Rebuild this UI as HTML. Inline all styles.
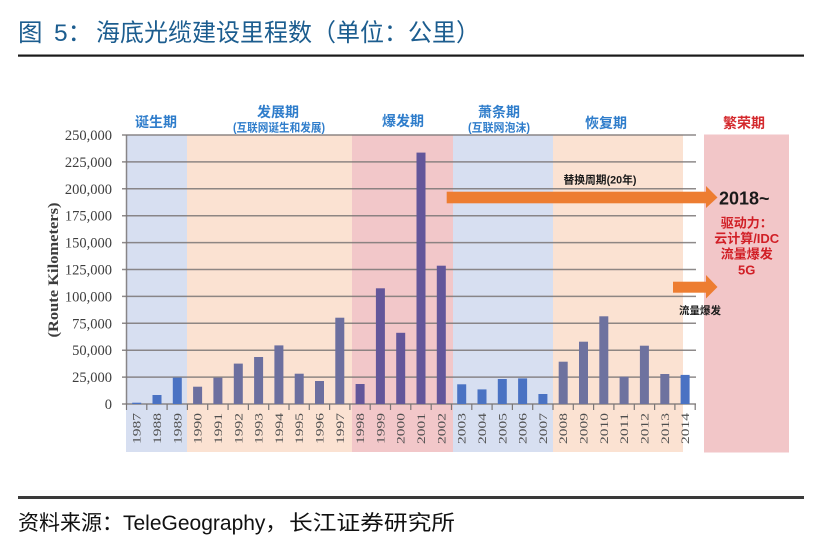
<!DOCTYPE html>
<html><head><meta charset="utf-8"><style>
html,body{margin:0;padding:0;background:#fff;}
body{width:818px;height:556px;overflow:hidden;}
svg{display:block;}
</style></head><body>
<svg width="818" height="556" viewBox="0 0 818 556" xmlns="http://www.w3.org/2000/svg">
<!-- title -->
<g font-family="'Liberation Sans','Noto Sans CJK SC',sans-serif" fill="#1c5d8f" font-size="24.5">
<text x="18" y="41">图</text>
<text x="54" y="41">5：</text>
<text x="96" y="41" textLength="384" lengthAdjust="spacingAndGlyphs">海底光缆建设里程数（单位：公里）</text>
</g>
<rect x="18" y="54.5" width="786" height="2.2" fill="#1a1a1a"/>

<!-- bands -->
<rect x="126" y="134.5" width="61" height="317.5" fill="#d7dff1"/>
<rect x="187" y="134.5" width="165" height="317.5" fill="#fbe2d2"/>
<rect x="352" y="134.5" width="101" height="317.5" fill="#f2c7c9"/>
<rect x="453" y="134.5" width="100" height="317.5" fill="#d7dff1"/>
<rect x="553" y="134.5" width="130" height="317.5" fill="#fbe2d2"/>
<rect x="704" y="134.5" width="85" height="318" fill="#f2c6c8"/>

<!-- gridlines -->
<g stroke="#7a7676" stroke-width="1.5" stroke-opacity="0.85">
<line x1="122" y1="135" x2="696" y2="135"/>
<line x1="122" y1="161.9" x2="696" y2="161.9"/>
<line x1="122" y1="188.8" x2="696" y2="188.8"/>
<line x1="122" y1="215.7" x2="696" y2="215.7"/>
<line x1="122" y1="242.6" x2="696" y2="242.6"/>
<line x1="122" y1="269.5" x2="696" y2="269.5"/>
<line x1="122" y1="296.4" x2="696" y2="296.4"/>
<line x1="122" y1="323.3" x2="696" y2="323.3"/>
<line x1="122" y1="350.2" x2="696" y2="350.2"/>
<line x1="122" y1="377.1" x2="696" y2="377.1"/>
<line x1="122" y1="404" x2="696" y2="404"/>
<line x1="126.5" y1="135" x2="126.5" y2="404"/>
</g>
<!-- x ticks -->
<g stroke="#7a7676" stroke-width="1.2">
<line x1="126.5" y1="404" x2="126.5" y2="410"/><line x1="146.8" y1="404" x2="146.8" y2="410"/><line x1="167.1" y1="404" x2="167.1" y2="410"/><line x1="187.4" y1="404" x2="187.4" y2="410"/><line x1="207.7" y1="404" x2="207.7" y2="410"/><line x1="228.1" y1="404" x2="228.1" y2="410"/><line x1="248.4" y1="404" x2="248.4" y2="410"/><line x1="268.7" y1="404" x2="268.7" y2="410"/><line x1="289" y1="404" x2="289" y2="410"/><line x1="309.3" y1="404" x2="309.3" y2="410"/><line x1="329.6" y1="404" x2="329.6" y2="410"/><line x1="349.9" y1="404" x2="349.9" y2="410"/><line x1="370.2" y1="404" x2="370.2" y2="410"/><line x1="390.5" y1="404" x2="390.5" y2="410"/><line x1="410.8" y1="404" x2="410.8" y2="410"/><line x1="431.2" y1="404" x2="431.2" y2="410"/><line x1="451.5" y1="404" x2="451.5" y2="410"/><line x1="471.8" y1="404" x2="471.8" y2="410"/><line x1="492.1" y1="404" x2="492.1" y2="410"/><line x1="512.4" y1="404" x2="512.4" y2="410"/><line x1="532.7" y1="404" x2="532.7" y2="410"/><line x1="553" y1="404" x2="553" y2="410"/><line x1="573.3" y1="404" x2="573.3" y2="410"/><line x1="593.6" y1="404" x2="593.6" y2="410"/><line x1="613.9" y1="404" x2="613.9" y2="410"/><line x1="634.3" y1="404" x2="634.3" y2="410"/><line x1="654.6" y1="404" x2="654.6" y2="410"/><line x1="674.9" y1="404" x2="674.9" y2="410"/><line x1="695.2" y1="404" x2="695.2" y2="410"/>
</g>

<!-- bars -->
<g fill="#4a72c3">
<rect x="132.2" y="402.7" width="9" height="1.3"/>
<rect x="152.5" y="395" width="9" height="9"/>
<rect x="172.8" y="377.6" width="9" height="26.4"/>
</g>
<g fill="#6c6f9f">
<rect x="193.1" y="386.7" width="9" height="17.3"/>
<rect x="213.4" y="377.6" width="9" height="26.4"/>
<rect x="233.8" y="363.6" width="9" height="40.4"/>
<rect x="254.1" y="357" width="9" height="47"/>
<rect x="274.4" y="345.4" width="9" height="58.6"/>
<rect x="294.7" y="373.7" width="9" height="30.3"/>
<rect x="315" y="381" width="9" height="23"/>
<rect x="335.3" y="317.7" width="9" height="86.3"/>
</g>
<g fill="#63569a">
<rect x="355.6" y="384" width="9" height="20"/>
<rect x="375.9" y="288.3" width="9" height="115.7"/>
<rect x="396.2" y="332.8" width="9" height="71.2"/>
<rect x="416.5" y="152.6" width="9" height="251.4"/>
<rect x="436.8" y="265.7" width="9" height="138.3"/>
</g>
<g fill="#4a72c3">
<rect x="457.2" y="384.3" width="9" height="19.7"/>
<rect x="477.5" y="389.4" width="9" height="14.6"/>
<rect x="497.8" y="379" width="9" height="25"/>
<rect x="518.1" y="378.4" width="9" height="25.6"/>
<rect x="538.4" y="394" width="9" height="10"/>
</g>
<g fill="#6e729f">
<rect x="558.7" y="361.7" width="9" height="42.3"/>
<rect x="579" y="341.7" width="9" height="62.3"/>
<rect x="599.3" y="316.3" width="9" height="87.7"/>
<rect x="619.6" y="376.7" width="9" height="27.3"/>
<rect x="639.9" y="345.7" width="9" height="58.3"/>
<rect x="660.3" y="374" width="9" height="30"/>
</g>
<rect x="680.6" y="374.9" width="9" height="29.1" fill="#4a72c3"/>

<!-- y labels -->
<g font-family="'Liberation Serif',serif" font-size="14.5" fill="#3d3d3d" text-anchor="end">
<text x="112" y="140">250,000</text>
<text x="112" y="166.9">225,000</text>
<text x="112" y="193.8">200,000</text>
<text x="112" y="220.7">175,000</text>
<text x="112" y="247.6">150,000</text>
<text x="112" y="274.5">125,000</text>
<text x="112" y="301.4">100,000</text>
<text x="112" y="328.3">75,000</text>
<text x="112" y="355.2">50,000</text>
<text x="112" y="382.1">25,000</text>
<text x="112" y="409">0</text>
</g>
<text transform="translate(58,270) rotate(-90)" text-anchor="middle" font-family="'Liberation Serif',serif" font-weight="bold" font-size="14.5" fill="#3d3d3d" textLength="135" lengthAdjust="spacingAndGlyphs">(Route Kilometers)</text>

<!-- x labels -->
<g font-family="'Liberation Serif',serif" font-size="11.5" fill="#4e4e4e" text-anchor="end">
<text transform="translate(140.7,413) rotate(-90)" textLength="31" lengthAdjust="spacingAndGlyphs">1987</text>
<text transform="translate(161,413) rotate(-90)" textLength="31" lengthAdjust="spacingAndGlyphs">1988</text>
<text transform="translate(181.3,413) rotate(-90)" textLength="31" lengthAdjust="spacingAndGlyphs">1989</text>
<text transform="translate(201.6,413) rotate(-90)" textLength="31" lengthAdjust="spacingAndGlyphs">1990</text>
<text transform="translate(221.9,413) rotate(-90)" textLength="31" lengthAdjust="spacingAndGlyphs">1991</text>
<text transform="translate(242.3,413) rotate(-90)" textLength="31" lengthAdjust="spacingAndGlyphs">1992</text>
<text transform="translate(262.6,413) rotate(-90)" textLength="31" lengthAdjust="spacingAndGlyphs">1993</text>
<text transform="translate(282.9,413) rotate(-90)" textLength="31" lengthAdjust="spacingAndGlyphs">1994</text>
<text transform="translate(303.2,413) rotate(-90)" textLength="31" lengthAdjust="spacingAndGlyphs">1995</text>
<text transform="translate(323.5,413) rotate(-90)" textLength="31" lengthAdjust="spacingAndGlyphs">1996</text>
<text transform="translate(343.8,413) rotate(-90)" textLength="31" lengthAdjust="spacingAndGlyphs">1997</text>
<text transform="translate(364.1,413) rotate(-90)" textLength="31" lengthAdjust="spacingAndGlyphs">1998</text>
<text transform="translate(384.4,413) rotate(-90)" textLength="31" lengthAdjust="spacingAndGlyphs">1999</text>
<text transform="translate(404.7,413) rotate(-90)" textLength="31" lengthAdjust="spacingAndGlyphs">2000</text>
<text transform="translate(425,413) rotate(-90)" textLength="31" lengthAdjust="spacingAndGlyphs">2001</text>
<text transform="translate(445.3,413) rotate(-90)" textLength="31" lengthAdjust="spacingAndGlyphs">2002</text>
<text transform="translate(465.7,413) rotate(-90)" textLength="31" lengthAdjust="spacingAndGlyphs">2003</text>
<text transform="translate(486,413) rotate(-90)" textLength="31" lengthAdjust="spacingAndGlyphs">2004</text>
<text transform="translate(506.3,413) rotate(-90)" textLength="31" lengthAdjust="spacingAndGlyphs">2005</text>
<text transform="translate(526.6,413) rotate(-90)" textLength="31" lengthAdjust="spacingAndGlyphs">2006</text>
<text transform="translate(546.9,413) rotate(-90)" textLength="31" lengthAdjust="spacingAndGlyphs">2007</text>
<text transform="translate(567.2,413) rotate(-90)" textLength="31" lengthAdjust="spacingAndGlyphs">2008</text>
<text transform="translate(587.5,413) rotate(-90)" textLength="31" lengthAdjust="spacingAndGlyphs">2009</text>
<text transform="translate(607.8,413) rotate(-90)" textLength="31" lengthAdjust="spacingAndGlyphs">2010</text>
<text transform="translate(628.1,413) rotate(-90)" textLength="31" lengthAdjust="spacingAndGlyphs">2011</text>
<text transform="translate(648.4,413) rotate(-90)" textLength="31" lengthAdjust="spacingAndGlyphs">2012</text>
<text transform="translate(668.8,413) rotate(-90)" textLength="31" lengthAdjust="spacingAndGlyphs">2013</text>
<text transform="translate(689.1,413) rotate(-90)" textLength="31" lengthAdjust="spacingAndGlyphs">2014</text>
</g>

<!-- period labels -->
<g font-family="'Liberation Sans','Noto Sans CJK SC',sans-serif" font-weight="bold" fill="#2f7dcb" text-anchor="middle">
<text x="156" y="127" font-size="14">诞生期</text>
<text x="278" y="117" font-size="14">发展期</text>
<text x="279" y="131.5" font-size="11.5" textLength="92" lengthAdjust="spacingAndGlyphs">(互联网诞生和发展)</text>
<text x="403" y="126" font-size="14">爆发期</text>
<text x="499" y="117" font-size="14">萧条期</text>
<text x="499" y="131.5" font-size="11.5" textLength="62" lengthAdjust="spacingAndGlyphs">(互联网泡沫)</text>
<text x="606" y="128" font-size="14">恢复期</text>
<text x="744" y="128" font-size="14" fill="#d42a2e">繁荣期</text>
</g>

<!-- arrows -->
<g fill="#ed7d31">
<rect x="446.7" y="191.7" width="259.5" height="11.6"/>
<polygon points="706,186 717.5,197.5 706,208"/>
<rect x="673" y="281.7" width="33.5" height="11"/>
<polygon points="706,275 717.5,287 706,298.5"/>
</g>
<g font-family="'Liberation Sans','Noto Sans CJK SC',sans-serif" font-weight="bold" fill="#1a1a1a">
<text x="600" y="183.5" font-size="11" text-anchor="middle" textLength="73" lengthAdjust="spacingAndGlyphs">替换周期(20年)</text>
<text x="700" y="314" font-size="10.5" text-anchor="middle" textLength="42" lengthAdjust="spacingAndGlyphs">流量爆发</text>
<text x="719" y="204.5" font-size="18">2018~</text>
</g>
<g font-family="'Liberation Sans','Noto Sans CJK SC',sans-serif" font-weight="bold" fill="#d11f26" font-size="13" text-anchor="middle">
<text x="746.7" y="227.5">驱动力：</text>
<text x="746.7" y="243">云计算/IDC</text>
<text x="746.7" y="258.7">流量爆发</text>
<text x="746.7" y="274.5">5G</text>
</g>

<!-- footer -->
<rect x="18" y="496" width="786" height="3" fill="#3a3a3a"/>
<g font-family="'Liberation Sans','Noto Sans CJK SC',sans-serif" fill="#111" font-size="21">
<text x="18" y="530">资料来源：TeleGeography，</text>
<text x="289" y="530" textLength="166" lengthAdjust="spacingAndGlyphs">长江证券研究所</text>
</g>
</svg>
</body></html>
